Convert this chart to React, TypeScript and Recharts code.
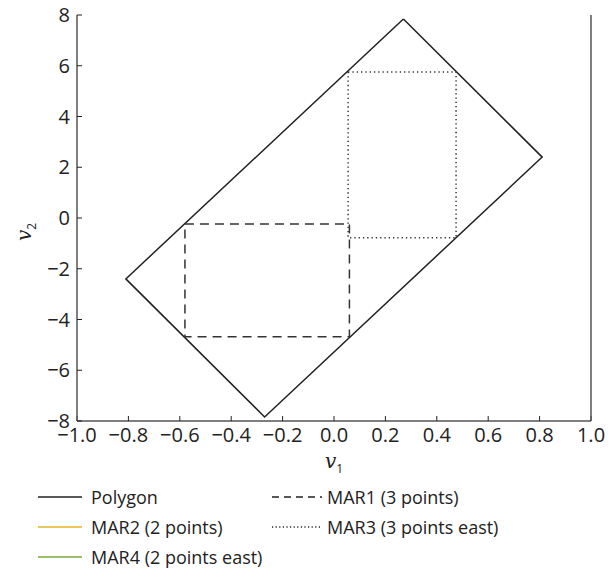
import React from 'react';
import { LineChart, Line, XAxis, YAxis } from 'recharts';

// polygon corners (closed, back to start)
const polygonV1 = [0.27, 0.81, -0.27, -0.81, 0.27];
const polygonV2 = [7.84, 2.4, -7.84, -2.4, 7.84];

// MAR1 (3 points)
const mar1V1 = [-0.58, 0.06, 0.06, -0.58, -0.58];
const mar1V2 = [-0.24, -0.24, -4.68, -4.68, -0.24];

// MAR3 (3 points east)
const mar3V1 = [0.055, 0.475, 0.475, 0.055, 0.055];
const mar3V2 = [5.75, 5.75, -0.78, -0.78, 5.75];

const xTicks = [-1, -0.8, -0.6, -0.4, -0.2, 0, 0.2, 0.4, 0.6, 0.8, 1];
const yTicks = [-8, -6, -4, -2, 0, 2, 4, 6, 8];

const legendItems = [
  { label: 'Polygon', color: '#222', dash: undefined, col: 0, row: 0 },
  { label: 'MAR1 (3 points)', color: '#222', dash: '7 5', col: 1, row: 0 },
  { label: 'MAR2 (2 points)', color: '#EDB120', dash: undefined, col: 0, row: 1 },
  { label: 'MAR3 (3 points east)', color: '#222', dash: '1.2 2.4', col: 1, row: 1 },
  { label: 'MAR4 (2 points east)', color: '#77AC30', dash: undefined, col: 0, row: 2 },
];

const pts = (xs: number[], ys: number[]) => xs.map((v1, i) => ({ v1, v2: ys[i] }));

const FONT = '"Open Sans", Lato, sans-serif';
const MATH = '"DejaVu Serif", serif';
const fmtX = (v: number) => (v < 0 ? '\u2212' + Math.abs(v).toFixed(1) : v.toFixed(1));
const fmtY = (v: number) => (v < 0 ? '\u2212' + Math.abs(v) : String(v));

function XLabel({ viewBox }: any) {
  const cx = viewBox.x + viewBox.width / 2;
  return (
    <text x={cx} y={468} textAnchor="middle" fill="#222">
      <tspan fontFamily={MATH} fontStyle="italic" fontSize={20}>v</tspan>
      <tspan fontFamily={FONT} fontSize={12} dy={5}>1</tspan>
    </text>
  );
}

export default function App() {
  const axisStroke = '#555';
  const tickStyle = { fill: '#222', fontSize: 20, fontFamily: FONT };
  return (
    <div style={{ position: 'absolute', left: 0, top: 0, width: 611, height: 577, background: '#fff' }}>
      <LineChart width={611} height={480} margin={{ top: 15, right: 0, bottom: 9, left: 0 }}>
        <XAxis
          type="number"
          dataKey="v1"
          domain={[-1, 1]}
          ticks={xTicks}
          allowDataOverflow
          tickFormatter={fmtX}
          tick={tickStyle}
          tickSize={-5}
          tickMargin={12}
          height={50}
          stroke={axisStroke}
          strokeWidth={1.5}
          tickLine={{ stroke: '#222', strokeWidth: 1 }}
          label={<XLabel />}
        />
        <XAxis
          xAxisId="top"
          orientation="top"
          type="number"
          dataKey="v1"
          domain={[-1, 1]}
          ticks={xTicks}
          tickFormatter={() => ''}
          tickSize={-5}
          height={0}
          stroke={axisStroke}
          strokeWidth={1.5}
          tickLine={{ stroke: '#222', strokeWidth: 1 }}
        />
        <YAxis
          type="number"
          domain={[-8, 8]}
          ticks={yTicks}
          allowDataOverflow
          tickFormatter={fmtY}
          tick={tickStyle}
          tickSize={-5}
          tickMargin={12}
          width={77}
          stroke={axisStroke}
          strokeWidth={1.5}
          tickLine={{ stroke: '#222', strokeWidth: 1 }}
        />
        <YAxis
          yAxisId="right"
          orientation="right"
          type="number"
          domain={[-8, 8]}
          ticks={yTicks}
          tickFormatter={() => ''}
          tickSize={-5}
          width={20}
          stroke={axisStroke}
          strokeWidth={1.5}
          tickLine={{ stroke: '#222', strokeWidth: 1 }}
        />
        <Line data={pts(polygonV1, polygonV2)} dataKey="v2" type="linear" stroke="#222" strokeWidth={1.5} dot={false} isAnimationActive={false} />
        <Line data={pts(mar1V1, mar1V2)} dataKey="v2" type="linear" stroke="#333" strokeWidth={1.5} strokeDasharray="9 6" dot={false} isAnimationActive={false} />
        <Line data={pts(mar3V1, mar3V2)} dataKey="v2" type="linear" stroke="#333" strokeWidth={1.5} strokeDasharray="1.3 3" dot={false} isAnimationActive={false} />
      </LineChart>
      <svg width={50} height={300} style={{ position: 'absolute', left: 0, top: 100 }}>
        <text x={0} y={0} textAnchor="middle" fill="#222" transform="translate(31,132) rotate(-90)">
          <tspan fontFamily={MATH} fontStyle="italic" fontSize={20}>v</tspan>
          <tspan fontFamily={FONT} fontSize={12} dy={5}>2</tspan>
        </text>
      </svg>
      {legendItems.map((it) => (
        <div
          key={it.label}
          style={{
            position: 'absolute',
            left: it.col === 0 ? 38 : 272,
            top: 497 + it.row * 30 - 12,
            height: 24,
            display: 'flex',
            alignItems: 'center',
            fontFamily: FONT,
            fontSize: 18,
            color: '#222',
            whiteSpace: 'nowrap',
          }}
        >
          <svg width={it.col === 0 ? 44 : 50} height={24} style={{ marginRight: it.col === 0 ? 9 : 5 }}>
            <line x1={0} y1={12} x2={it.col === 0 ? 44 : 50} y2={12} stroke={it.color} strokeWidth={1.5} strokeDasharray={it.dash} />
          </svg>
          {it.label}
        </div>
      ))}
    </div>
  );
}
